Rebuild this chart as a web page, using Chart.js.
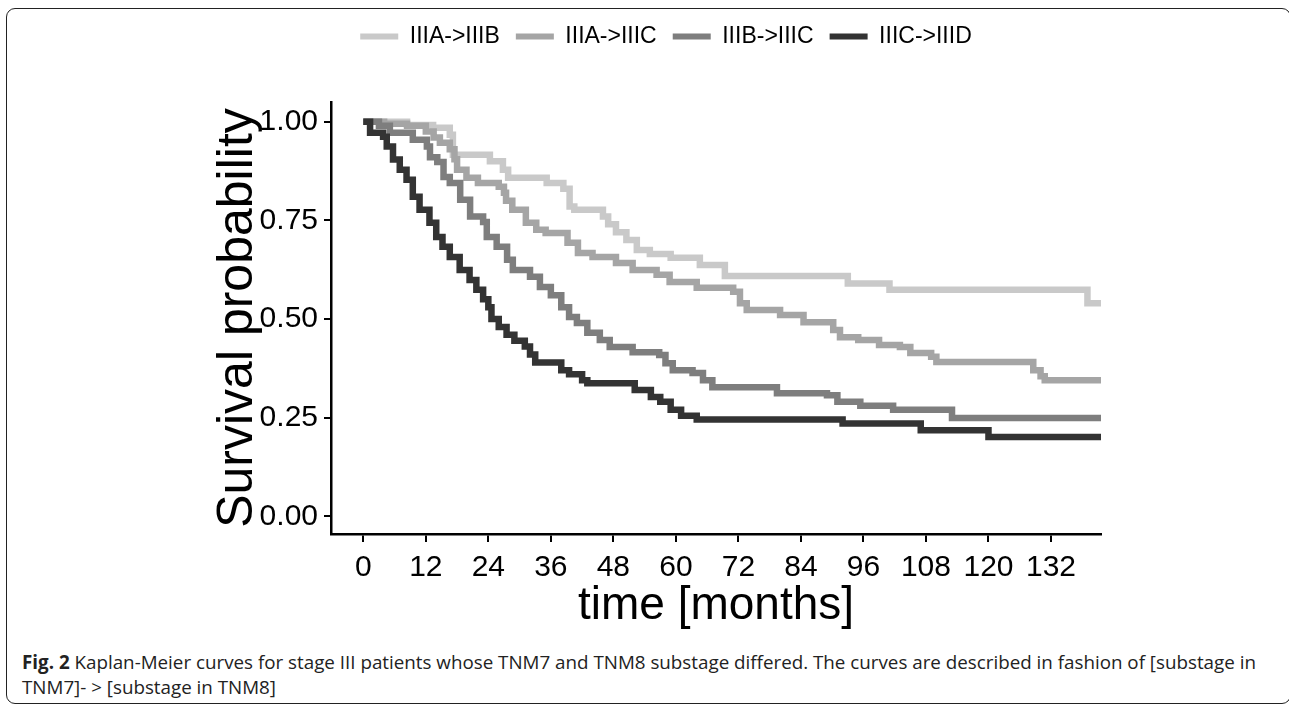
<!DOCTYPE html>
<html>
<head>
<meta charset="utf-8">
<script src="https://cdn.jsdelivr.net/npm/chart.js@4.4.1/dist/chart.umd.min.js"></script>
<style>
  html, body { margin: 0; padding: 0; background: #fff; }
  body { width: 1289px; height: 711px; position: relative; overflow: hidden; }
  .frame {
    position: absolute; left: 6px; top: 8px; width: 1285px; height: 696px;
    border: 1.5px solid #222; border-radius: 9px; box-sizing: border-box;
  }
  .plot { position: absolute; left: 0; top: 0; width: 1289px; height: 640px; }
  .caption {
    position: absolute; left: 22px; top: 650px; white-space: nowrap;
    font-family: 'Open Sans', sans-serif; font-size: 18.8px; line-height: 25px; color: #222;
  }
  .caption b { font-weight: 700; }
</style>
</head>
<body>
<div class="frame"></div>
<div class="plot"><canvas id="kmChart"></canvas></div>
<div class="caption"><b>Fig. 2</b> Kaplan-Meier curves for stage III patients whose TNM7 and TNM8 substage differed. The curves are described in fashion of [substage in<br>TNM7]- &gt; [substage in TNM8]</div>

<script>
// --- Data (time in months, survival probability) ---
const seriesLabels = ['IIIA->IIIB', 'IIIA->IIIC', 'IIIB->IIIC', 'IIIC->IIID'];
const seriesColors = ['#c9c9c9', '#a5a5a5', '#7e7e7e', '#333333'];

const timeAB = [0, 8.4, 13.4, 16.6, 17.2, 24.3, 26.8, 27.8, 35.2, 38.4, 39.6, 40.5, 46, 47, 48.5, 50.5, 52.5, 55, 59, 64.6, 69.4, 93, 101, 139, 141.6];
const survAB = [1, 0.992, 0.985, 0.967, 0.916, 0.90, 0.878, 0.858, 0.845, 0.83, 0.785, 0.777, 0.76, 0.74, 0.72, 0.70, 0.675, 0.665, 0.655, 0.637, 0.609, 0.59, 0.574, 0.54, 0.54];

const timeAC = [0, 4, 8.4, 12, 13.5, 14.7, 16.6, 17.5, 18, 19.8, 22, 26, 27, 27.4, 28.6, 31.2, 33.2, 35, 39.2, 41.2, 44, 48.5, 51.7, 56.3, 58.8, 64, 71, 72.3, 73.6, 80, 84.5, 90.2, 91.5, 95, 99, 103, 105, 109, 110, 128.6, 130, 130.8, 141.6];
const survAC = [1, 0.995, 0.99, 0.975, 0.96, 0.947, 0.93, 0.905, 0.878, 0.858, 0.845, 0.835, 0.82, 0.80, 0.777, 0.744, 0.726, 0.718, 0.693, 0.667, 0.657, 0.642, 0.624, 0.612, 0.594, 0.579, 0.569, 0.54, 0.523, 0.51, 0.492, 0.472, 0.454, 0.447, 0.434, 0.429, 0.414, 0.404, 0.391, 0.37, 0.355, 0.345, 0.345];

const timeBC = [0, 3, 5.1, 9.5, 12.2, 12.8, 14.2, 15.4, 16.6, 18.6, 20.5, 23, 23.7, 25.6, 27.6, 28.7, 32, 33.9, 36, 38, 39.5, 41, 43, 45.4, 47.3, 51.7, 56.8, 58, 59.4, 63.2, 65.2, 67, 79.4, 89, 91, 95.4, 101.7, 113, 141.6];
const survBC = [1, 0.99, 0.972, 0.954, 0.937, 0.91, 0.898, 0.86, 0.845, 0.802, 0.76, 0.746, 0.708, 0.683, 0.65, 0.624, 0.607, 0.581, 0.56, 0.53, 0.505, 0.49, 0.465, 0.447, 0.429, 0.416, 0.409, 0.388, 0.37, 0.363, 0.345, 0.327, 0.312, 0.307, 0.29, 0.28, 0.27, 0.249, 0.249];

const timeCD = [0, 1.3, 3.8, 4.5, 5.7, 7, 8.3, 9.5, 10.8, 12.7, 14, 15.2, 16.6, 18.5, 20.4, 21.7, 23, 24, 24.6, 26, 27.5, 29, 31, 32, 33, 38, 39.5, 42, 43, 52.1, 55.2, 57, 59, 61, 64, 92, 107, 120, 141.6];
const survCD = [1, 0.972, 0.962, 0.937, 0.904, 0.878, 0.853, 0.81, 0.777, 0.744, 0.708, 0.683, 0.657, 0.624, 0.599, 0.574, 0.55, 0.53, 0.50, 0.48, 0.46, 0.445, 0.43, 0.41, 0.39, 0.37, 0.36, 0.345, 0.337, 0.32, 0.302, 0.29, 0.27, 0.255, 0.245, 0.235, 0.218, 0.201, 0.201];

const xTickValues = [0, 12, 24, 36, 48, 60, 72, 84, 96, 108, 120, 132];
const yTickValues = [0, 0.25, 0.5, 0.75, 1];

const seriesTimes = [timeAB, timeAC, timeBC, timeCD];
const seriesSurv = [survAB, survAC, survBC, survCD];

(function() {
    'use strict';

    const FONT = "'Liberation Sans', Arial, Helvetica, sans-serif";

    // pushes the plot area down below the legend
    const legendGap = {
        id: 'legendGap',
        beforeInit(chart) {
            const origFit = chart.legend.fit;
            chart.legend.fit = function() {
                origFit.bind(chart.legend)();
                this.height += 44;
            };
        }
    };

    const datasets = seriesLabels.map((label, i) => ({
        label,
        data: seriesTimes[i].map((t, k) => ({ x: t, y: seriesSurv[i][k] })),
        borderColor: seriesColors[i],
        backgroundColor: seriesColors[i],
        borderWidth: 6.5,
        borderJoinStyle: 'miter',
        borderCapStyle: 'butt',
        pointRadius: 0,
        stepped: 'before',
        fill: false,
        order: seriesLabels.length - i
    }));

    const ctx = document.getElementById('kmChart').getContext('2d');
    new Chart(ctx, {
        type: 'line',
        data: { datasets },
        plugins: [legendGap],
        options: {
            responsive: true,
            maintainAspectRatio: false,
            animation: false,
            layout: { padding: { top: 9, left: 231, right: 188, bottom: 0 } },
            plugins: {
                tooltip: { enabled: false },
                legend: {
                    position: 'top',
                    labels: {
                        boxWidth: 38,
                        boxHeight: 6,
                        padding: 16,
                        color: '#000',
                        font: { family: FONT, size: 23 },
                        generateLabels: (chart) => chart.data.datasets.map((ds, i) => ({
                            text: ds.label,
                            fillStyle: ds.borderColor,
                            strokeStyle: ds.borderColor,
                            lineWidth: 0,
                            hidden: false,
                            datasetIndex: i,
                            fontColor: '#000'
                        }))
                    }
                }
            },
            scales: {
                x: {
                    type: 'linear',
                    min: -6.2,
                    max: 141.6,
                    afterFit: (scale) => { scale.height = 106; },
                    afterBuildTicks: (scale) => { scale.ticks = xTickValues.map(v => ({ value: v })); },
                    border: { display: true, color: '#000', width: 2.5 },
                    grid: { display: true, drawOnChartArea: false, drawTicks: true, tickLength: 8, color: '#000', lineWidth: 2 },
                    ticks: { color: '#000', padding: 8, maxRotation: 0, font: { family: FONT, size: 30 }, callback: (v) => String(v) },
                    title: { display: true, text: 'time [months]', color: '#000', font: { family: FONT, size: 46 }, padding: { top: 0, bottom: 6 } }
                },
                y: {
                    type: 'linear',
                    min: -0.045,
                    max: 1.05,
                    afterFit: (scale) => { scale.width = 100; },
                    afterBuildTicks: (scale) => { scale.ticks = yTickValues.map(v => ({ value: v })); },
                    border: { display: true, color: '#000', width: 2.5 },
                    grid: { display: true, drawOnChartArea: false, drawTicks: true, tickLength: 7, color: '#000', lineWidth: 2 },
                    ticks: { color: '#000', padding: 6, font: { family: FONT, size: 30 }, callback: (v) => Number(v).toFixed(2) },
                    title: { display: true, text: 'Survival probability', color: '#000', font: { family: FONT, size: 50, lineHeight: 0.3 }, padding: { top: 0, bottom: 0 } }
                }
            }
        }
    });
})();
</script>
</body>
</html>
